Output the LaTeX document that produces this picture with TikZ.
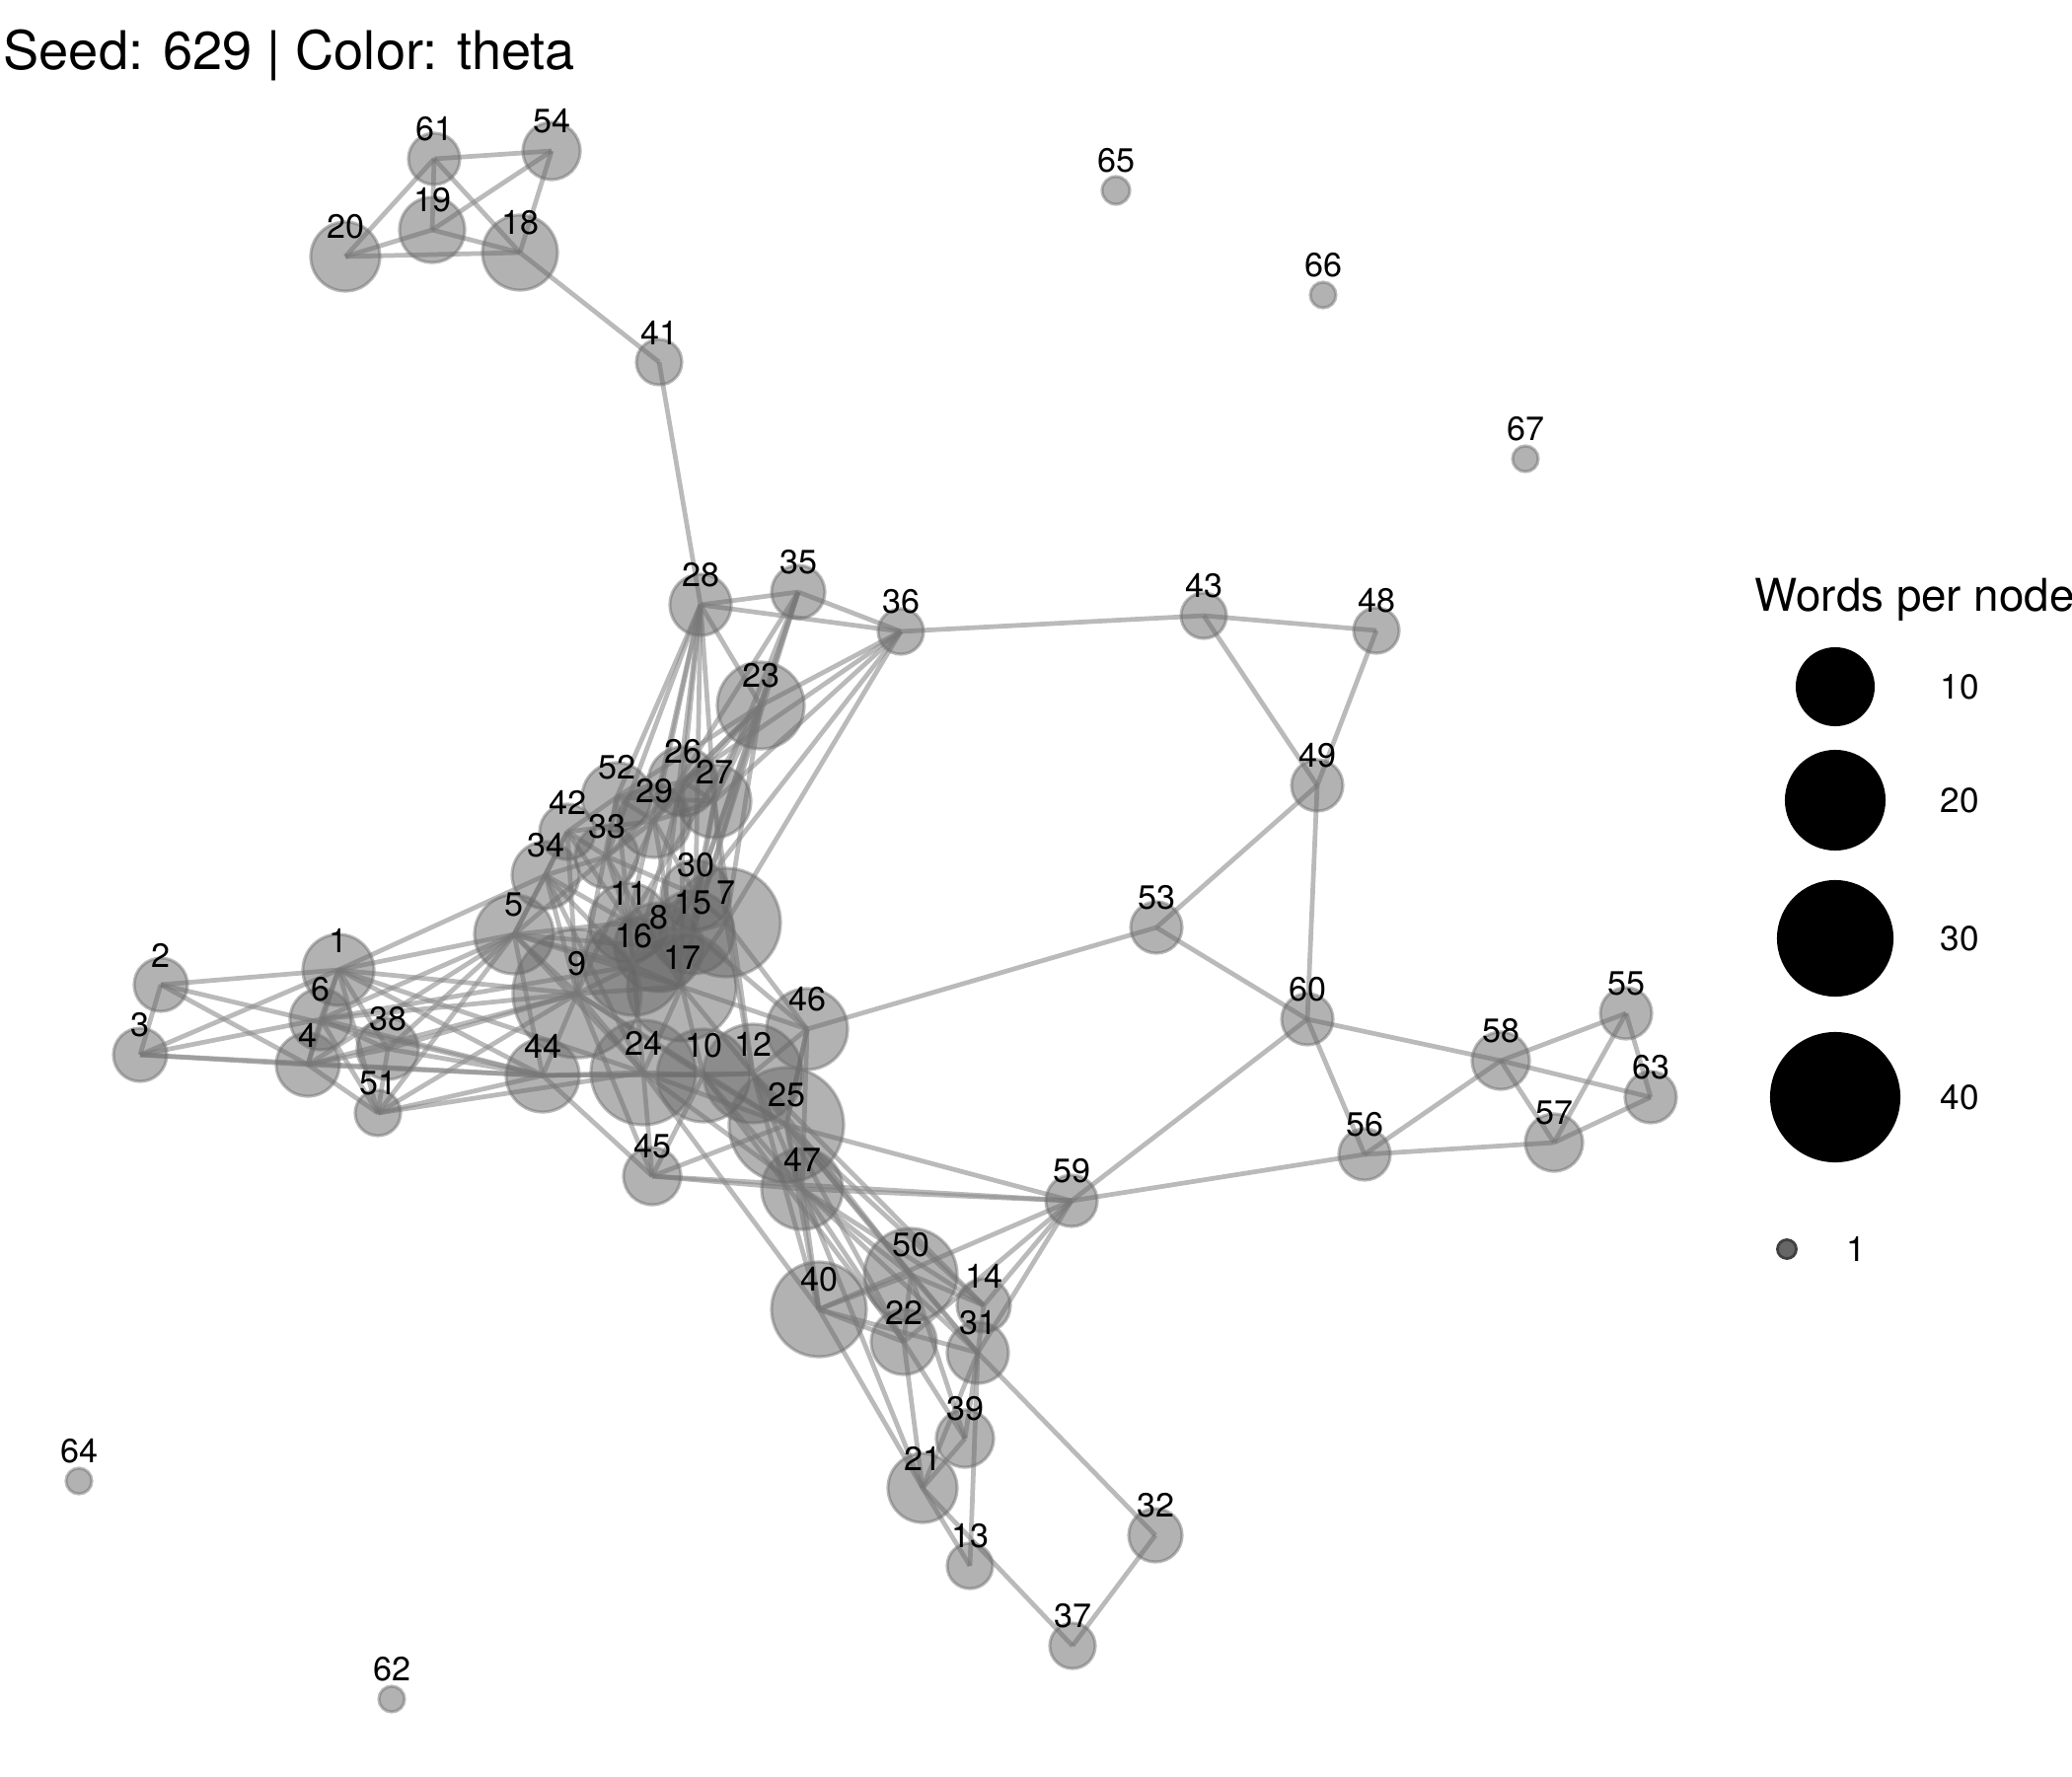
\documentclass[tikz,border=0pt]{standalone}
\usepackage{fontspec}
\setmainfont{TeX Gyre Heros}
\usetikzlibrary{backgrounds}

\tikzset{
  wnode/.style={circle, inner sep=0pt, fill=black!60, fill opacity=0.5,
    draw=black!55, draw opacity=0.5, line width=0.9pt},
  wedge/.style={draw=black!45, draw opacity=0.6, line width=1.35pt},
  wlabel/.style={font=\fontsize{9.7}{11}\selectfont, inner sep=0pt},
  keydot/.style={circle, inner sep=0pt, fill=black},
  keytext/.style={font=\fontsize{10}{12}\selectfont, inner sep=0pt},
}

\begin{document}
\begin{tikzpicture}[x=0.01cm, y=-0.01cm]
  \useasboundingbox (0,0) rectangle (2100,1800);

  % title
  \node[anchor=base west, inner sep=0pt, font=\fontsize{15.4}{18}\selectfont] (title) at (3,71) {Seed: 629 | Color: theta};

  % word nodes: name/x/y/radius
  \foreach \n/\px/\py/\r in {61/440/161/26, 54/559/153/29, 19/438/233/33, 20/350/260/35,
      18/527/256/38, 41/668/367/23, 65/1131/193/14, 66/1341/299/13, 67/1546/465/13,
      28/710/613/31, 35/809/600/27, 36/913/640/23, 43/1220/624/23, 48/1395/639/23,
      23/771/715/44, 49/1335/796/26, 52/625/808/35, 26/692/792/35, 27/724/812/37,
      29/663/832/37, 42/575/843/28, 33/615/868/32, 34/553/887/34, 30/705/907/35,
      5/521/947/40, 11/637/935/40, 15/702/945/42, 7/736/935/55, 8/668/960/45,
      16/642/979/50, 17/691/1000/55, 9/585/1007/65, 53/1172/940/26, 1/343/983/36,
      2/163/998/27, 6/325/1033/31, 3/142/1069/27, 4/312/1079/32, 38/393/1063/31,
      51/383/1128/23, 44/550/1090/37, 24/652/1087/53, 10/713/1090/47, 12/763/1088/50,
      46/818/1043/41, 25/797/1140/58, 60/1325/1033/26, 58/1521/1075/29, 55/1648/1027/26,
      63/1673/1112/26, 57/1575/1158/29, 56/1383/1170/26, 45/661/1192/29, 47/813/1205/41,
      59/1086/1217/26, 50/923/1292/47, 40/830/1327/48, 14/997/1323/27, 22/916/1360/33,
      31/991/1371/31, 39/978/1458/29, 21/935/1508/35, 32/1171/1556/27, 13/983/1587/23,
      37/1087/1668/23, 64/80/1501/13, 62/397/1722/13}
    \node[wnode, minimum size={\r*0.02cm}] (n\n) at (\px,\py) {};

  % labels over the nodes
  \foreach \n in {1,...,67}
    \node[wlabel] (t\n) at ([yshift=0.3cm]n\n.center) {\n};

  % co-occurrence links
  \begin{scope}[on background layer]
    \foreach \a/\b in {61/54, 61/19, 61/20, 61/18, 20/19, 20/18, 19/18, 19/54, 54/18, 18/41, 41/28,
        28/35, 28/36, 35/36, 28/23, 35/23, 36/23, 36/27, 36/30, 36/7, 36/26, 35/27, 35/30,
        35/29, 35/15, 23/26, 23/27, 23/29, 23/52, 23/30, 23/11, 23/7, 23/15, 23/33,
        28/52, 28/29, 28/26, 28/27, 28/33, 28/11, 28/30, 28/8,
        36/43, 43/48, 43/49, 48/49, 49/53, 49/60, 53/60, 53/46,
        60/58, 60/56, 60/59, 58/55, 58/63, 58/56, 58/57, 55/57, 55/63, 57/63, 56/57, 59/56,
        59/47, 45/59, 25/59, 59/40, 59/14, 59/31, 59/22, 31/32, 32/37, 21/37, 13/31, 13/21,
        31/39, 31/21, 39/21, 22/21, 22/39, 40/21, 40/22, 40/31, 40/50, 50/22, 50/14, 50/31,
        14/31, 47/40, 47/50, 47/22, 47/14, 47/31, 25/50, 25/40, 25/14, 25/22, 12/50, 12/40,
        46/47, 46/25, 50/39, 47/21, 25/31, 12/14, 10/22, 24/40,
        2/3, 2/1, 2/4, 2/44, 3/1, 3/6, 3/4, 3/44, 1/5, 1/9, 1/44, 1/38, 1/51, 1/4, 1/6, 1/24,
        6/5, 6/38, 6/9, 6/44, 6/4, 6/51, 4/5, 4/9, 4/44, 4/38, 4/51, 38/5, 38/9, 38/44,
        38/51, 51/5, 51/9, 51/44, 51/24, 1/34, 6/16,
        5/34, 5/42, 5/33, 5/11, 5/9, 5/16, 5/44, 5/8, 5/17, 5/24, 34/42, 34/33, 34/11, 34/9,
        34/16, 42/33, 42/52, 42/29, 42/11, 33/52, 33/29, 33/11, 33/30, 33/8, 52/29, 52/26,
        52/27, 29/26, 29/27, 29/30, 26/27, 27/30, 27/7, 27/15, 30/15, 30/7, 30/11, 30/8,
        11/8, 11/16, 11/15, 15/7, 15/8, 15/17, 7/17, 8/16, 8/17, 16/17, 16/9, 17/9, 9/44,
        9/24, 9/10, 16/24, 17/24, 17/10, 17/12, 7/12, 7/46, 17/46, 15/46, 44/24, 44/45,
        24/10, 24/45, 10/12, 10/45, 12/46, 12/25, 10/25, 46/25, 24/25, 45/25, 45/47, 12/47,
        10/47, 24/47, 25/47, 9/45, 44/10, 44/12, 9/25, 29/9, 52/9, 26/17, 27/12, 26/16,
        29/17, 52/16, 34/24, 42/9}
      \draw[wedge] (n\a.center) -- (n\b.center);
  \end{scope}

  % legend
  \node[anchor=base west, inner sep=0pt, font=\fontsize{13}{15}\selectfont] (keytitle) at (1778,619) {Words per node};
  \foreach \k/\ky/\kr in {10/696/40, 20/811/51, 30/951/59, 40/1112/66} {
    \node[keydot, minimum size={\kr*0.02cm}] (k\k) at (1860,\ky) {};
    \node[keytext] (kl\k) at (1986,\ky) {\k};
  }
  \node[circle, inner sep=0pt, minimum size=0.19cm, fill=black!60, draw=black!75, line width=0.8pt] (k1) at (1811,1266) {};
  \node[keytext] (kl1) at (1881,1266) {1};
\end{tikzpicture}
\end{document}
